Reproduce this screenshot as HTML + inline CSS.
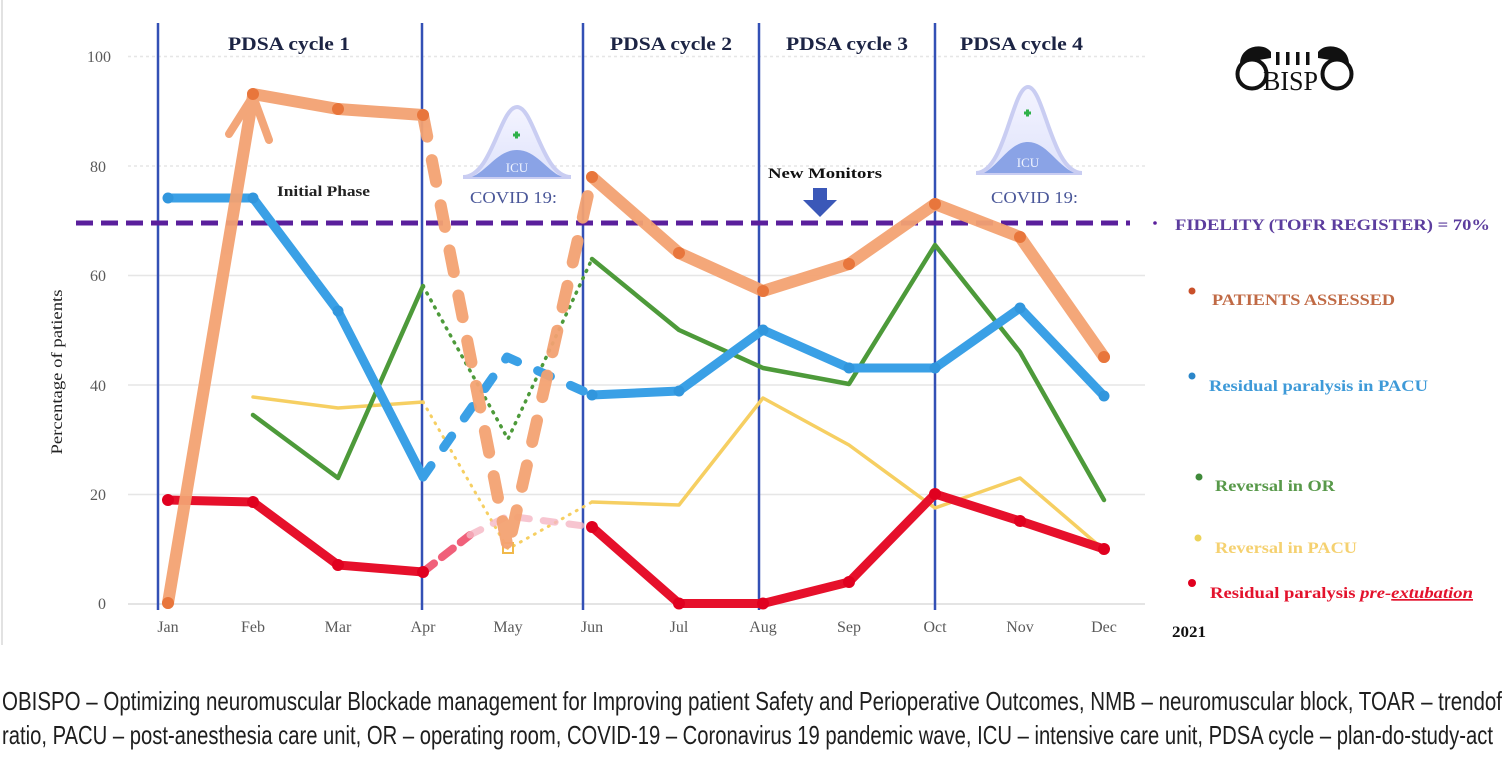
<!DOCTYPE html>
<html>
<head>
<meta charset="utf-8">
<style>
  html,body{margin:0;padding:0;background:#fff;}
  svg{display:block;}
  .ser{font-family:"Liberation Serif",serif;}
</style>
</head>
<body>
<svg width="1507" height="765" viewBox="0 0 1507 765" xmlns="http://www.w3.org/2000/svg">
  <rect width="1507" height="765" fill="#fff"/>
  <line x1="2" y1="0" x2="2" y2="645" stroke="#e2e2e2" stroke-width="2"/>

  <!-- gridlines -->
  <g stroke="#e6e6e6" stroke-width="1.5">
    <line x1="128" y1="56.5" x2="1145" y2="56.5" stroke-dasharray="3 3"/>
    <line x1="128" y1="166" x2="1145" y2="166" stroke-dasharray="3 3"/>
    <line x1="128" y1="275.5" x2="1145" y2="275.5"/>
    <line x1="128" y1="385" x2="1145" y2="385"/>
    <line x1="128" y1="494.5" x2="1145" y2="494.5"/>
    <line x1="128" y1="604" x2="1145" y2="604" stroke="#dcdcdc"/>
  </g>

  <!-- y tick labels -->
  <g class="ser" font-size="16" fill="#5a5a5a" text-anchor="end">
    <text x="111" y="62">100</text>
    <text x="106" y="172">80</text>
    <text x="106" y="281">60</text>
    <text x="106" y="391">40</text>
    <text x="106" y="500">20</text>
    <text x="106" y="609">0</text>
  </g>
  <text class="ser" font-size="15.5" fill="#222" transform="translate(62,372) rotate(-90)" text-anchor="middle" textLength="165" lengthAdjust="spacingAndGlyphs">Percentage of patients</text>

  <!-- x tick labels -->
  <g class="ser" font-size="16" fill="#5a5a5a" text-anchor="middle">
    <text x="168" y="632">Jan</text>
    <text x="253" y="632">Feb</text>
    <text x="338" y="632">Mar</text>
    <text x="423" y="632">Apr</text>
    <text x="508" y="632">May</text>
    <text x="592" y="632">Jun</text>
    <text x="679" y="632">Jul</text>
    <text x="763" y="632">Aug</text>
    <text x="849" y="632">Sep</text>
    <text x="935" y="632">Oct</text>
    <text x="1020" y="632">Nov</text>
    <text x="1104" y="632">Dec</text>
  </g>

  <!-- vertical cycle lines -->
  <g stroke="#3350b5" stroke-width="2.5">
    <line x1="158" y1="23" x2="158" y2="610"/>
    <line x1="422" y1="23" x2="422" y2="610"/>
    <line x1="583" y1="23" x2="583" y2="610"/>
    <line x1="759" y1="23" x2="759" y2="610"/>
    <line x1="935" y1="23" x2="935" y2="610"/>
  </g>

  <!-- PDSA labels -->
  <g class="ser" font-size="19" font-weight="bold" fill="#1c2444">
    <text x="228" y="50" textLength="122" lengthAdjust="spacingAndGlyphs">PDSA cycle 1</text>
    <text x="610" y="50" textLength="122" lengthAdjust="spacingAndGlyphs">PDSA cycle 2</text>
    <text x="786" y="50" textLength="122" lengthAdjust="spacingAndGlyphs">PDSA cycle 3</text>
    <text x="960" y="50" textLength="123" lengthAdjust="spacingAndGlyphs">PDSA cycle 4</text>
  </g>

  <text class="ser" font-size="15" font-weight="bold" fill="#222" x="277" y="196" textLength="93" lengthAdjust="spacingAndGlyphs">Initial Phase</text>
  <text class="ser" font-size="15" font-weight="bold" fill="#111" x="768" y="178" textLength="114" lengthAdjust="spacingAndGlyphs">New Monitors</text>
  <path d="M813,188 L827,188 L827,200 L837,200 L820,217 L803,200 L813,200 Z" fill="#3b58b8"/>

  <!-- COVID icons -->
  <defs>
    <linearGradient id="bell" x1="0" y1="0" x2="0" y2="1">
      <stop offset="0" stop-color="#f4f4ff"/>
      <stop offset="1" stop-color="#dfe3fb"/>
    </linearGradient>
  </defs>
  <g>
    <path d="M463,177 C492,177 500,107 517,107 C534,107 542,177 571,177 Z" fill="url(#bell)" stroke="#c9cdf2" stroke-width="4"/>
    <path d="M472,177 C488,170 498,150 517,150 C536,150 546,170 562,177 Z" fill="#8aa3e6"/>
    <text class="ser" x="517" y="172" font-size="13" fill="#f0f4ff" text-anchor="middle">ICU</text>
    <path d="M513,135 h7 M516.5,131.5 v7" stroke="#2fb14a" stroke-width="3"/>
    <text class="ser" x="470" y="203" font-size="17" fill="#4a5799" textLength="87" lengthAdjust="spacingAndGlyphs">COVID 19:</text>
  </g>
  <g>
    <path d="M976,173 C1005,173 1012,87 1028,87 C1044,87 1052,173 1082,173 Z" fill="url(#bell)" stroke="#c9cdf2" stroke-width="4"/>
    <path d="M984,173 C1000,164 1010,142 1028,142 C1046,142 1056,164 1074,173 Z" fill="#8aa3e6"/>
    <text class="ser" x="1028" y="167" font-size="13" fill="#f0f4ff" text-anchor="middle">ICU</text>
    <path d="M1024,113 h7 M1027.5,109.5 v7" stroke="#2fb14a" stroke-width="3"/>
    <text class="ser" x="991" y="203" font-size="17" fill="#4a5799" textLength="87" lengthAdjust="spacingAndGlyphs">COVID 19:</text>
  </g>

  <!-- Fidelity dashed line -->
  <line x1="76" y1="223" x2="1130" y2="223" stroke="#5a1f9c" stroke-width="5" stroke-dasharray="17 8"/>

  <!-- ===== Series ===== -->
  <!-- Yellow: Reversal in PACU -->
  <g fill="none" stroke="#f6cf62" stroke-linejoin="round" stroke-linecap="round">
    <polyline points="253,397 338,408 423,402" stroke-width="3.5"/>
    <polyline points="423,402 508,549 592,502" stroke-width="3" stroke-dasharray="1 7"/>
    <polyline points="592,502 679,505 763,398 849,445 935,508 1020,478 1104,550" stroke-width="3.5"/>
  </g>
  <rect x="503" y="543" width="10" height="10" fill="none" stroke="#f1b94a" stroke-width="2"/>

  <!-- Green: Reversal in OR -->
  <g fill="none" stroke="#4d9a3a" stroke-linejoin="round" stroke-linecap="round">
    <polyline points="253,415 338,478 423,286" stroke-width="4.5"/>
    <polyline points="423,286 508,439 592,259" stroke-width="3.5" stroke-dasharray="1 7"/>
    <polyline points="592,259 679,330 763,368 849,384 935,245 1020,352 1104,500" stroke-width="4.5"/>
  </g>

  <!-- Blue: Residual paralysis in PACU -->
  <g fill="none" stroke="#3aa0e6" stroke-linejoin="round" stroke-linecap="round">
    <polyline points="168,198 253,198 338,311 423,477" stroke-width="9"/>
    <polyline points="423,477 507,357 592,395" stroke-width="9" stroke-dasharray="14 22"/>
    <polyline points="592,395 679,391 763,330 849,368 935,368 1020,308 1104,396" stroke-width="9"/>
  </g>
  <g fill="#3196dd">
    <circle cx="168" cy="198" r="5.5"/><circle cx="253" cy="198" r="5.5"/><circle cx="338" cy="311" r="5.5"/>
    <circle cx="592" cy="395" r="5.5"/><circle cx="679" cy="391" r="5.5"/><circle cx="763" cy="330" r="5.5"/>
    <circle cx="849" cy="368" r="5.5"/><circle cx="935" cy="368" r="5.5"/><circle cx="1020" cy="308" r="5.5"/>
    <circle cx="1104" cy="396" r="5.5"/>
  </g>

  <!-- Red: Residual paralysis pre-extubation -->
  <g fill="none" stroke-linejoin="round" stroke-linecap="round">
    <polyline points="168,500 253,502 338,565 423,572" stroke="#e6102b" stroke-width="9"/>
    <polyline points="423,572 470,535" stroke="#f0607a" stroke-width="8" stroke-dasharray="14 10"/>
    <polyline points="470,535 508,516 592,527" stroke="#f5b6c4" stroke-width="7" stroke-dasharray="12 14" opacity="0.8"/>
    <polyline points="592,527 679,603.5 763,603.5 849,582 935,494 1020,521 1104,549" stroke="#e6102b" stroke-width="9"/>
  </g>
  <g fill="#e0001f">
    <circle cx="168" cy="500" r="6"/><circle cx="253" cy="502" r="6"/><circle cx="338" cy="565" r="6"/>
    <circle cx="423" cy="572" r="6"/><circle cx="592" cy="527" r="6"/><circle cx="679" cy="603.5" r="6"/>
    <circle cx="763" cy="603.5" r="6"/><circle cx="849" cy="582" r="6"/><circle cx="935" cy="494" r="6"/>
    <circle cx="1020" cy="521" r="6"/><circle cx="1104" cy="549" r="6"/>
  </g>

  <!-- Orange: Patients assessed -->
  <g fill="none" stroke="#f3a272" stroke-linejoin="round" stroke-linecap="round" opacity="0.95">
    <line x1="168" y1="603" x2="253" y2="96" stroke-width="12"/>
    <polyline points="229,134 253,96 269,140" stroke-width="8"/>
    <polyline points="253,94 338,109 423,115" stroke-width="12"/>
    <polyline points="423,115 508,549 592,177" stroke-width="12" stroke-dasharray="22 24"/>
    <polyline points="592,177 679,253 763,291 849,264 935,204 1020,237 1104,357" stroke-width="12"/>
  </g>
  <g fill="#e8763c">
    <circle cx="168" cy="603" r="6"/><circle cx="253" cy="94" r="6"/><circle cx="338" cy="109" r="6"/>
    <circle cx="423" cy="115" r="6"/><circle cx="592" cy="177" r="6"/><circle cx="679" cy="253" r="6"/>
    <circle cx="763" cy="291" r="6"/><circle cx="849" cy="264" r="6"/><circle cx="935" cy="204" r="6"/>
    <circle cx="1020" cy="237" r="6"/><circle cx="1104" cy="357" r="6"/>
  </g>

  <!-- Logo OBISPO -->
  <g>
    <circle cx="1252" cy="74" r="14.5" fill="none" stroke="#111" stroke-width="4"/>
    <circle cx="1337" cy="74" r="14.5" fill="none" stroke="#111" stroke-width="4"/>
    <path d="M1240,63 C1241,45 1264,42 1271,52 L1271,58 L1246,62 Z" fill="#111"/>
    <path d="M1349,63 C1348,45 1325,42 1318,52 L1318,58 L1343,62 Z" fill="#111"/>
    <rect x="1276" y="52" width="3.5" height="13" fill="#111"/>
    <rect x="1286" y="52" width="3.5" height="13" fill="#111"/>
    <rect x="1296" y="52" width="3.5" height="13" fill="#111"/>
    <rect x="1306" y="52" width="3.5" height="13" fill="#111"/>
    <text class="ser" x="1263" y="90" font-size="27" fill="#111" textLength="55" lengthAdjust="spacingAndGlyphs">BISP</text>
  </g>

  <!-- Legend -->
  <g class="ser" font-weight="bold">
    <circle cx="1155" cy="223" r="1.8" fill="#5a1f9c"/>
    <text x="1175" y="230" font-size="16" fill="#5c3d9e" textLength="315" lengthAdjust="spacingAndGlyphs">FIDELITY (TOFR REGISTER) = 70%</text>

    <circle cx="1192" cy="291" r="3.5" fill="#c9502a"/>
    <text x="1212" y="305" font-size="16" fill="#c06a45" textLength="183" lengthAdjust="spacingAndGlyphs">PATIENTS ASSESSED</text>

    <circle cx="1192" cy="376" r="3.5" fill="#2a86c9"/>
    <text x="1209" y="391" font-size="16" fill="#3e9ad8" textLength="219" lengthAdjust="spacingAndGlyphs">Residual paralysis in PACU</text>

    <circle cx="1199" cy="477" r="3.5" fill="#3f8a3a"/>
    <text x="1215" y="491" font-size="16" fill="#58994a" textLength="120" lengthAdjust="spacingAndGlyphs">Reversal in OR</text>

    <circle cx="1198" cy="538" r="3.5" fill="#ecd35a"/>
    <text x="1215" y="553" font-size="16" fill="#f5d170" textLength="142" lengthAdjust="spacingAndGlyphs">Reversal in PACU</text>

    <circle cx="1192" cy="583" r="4" fill="#e0001f"/>
    <text x="1210" y="598" font-size="16" fill="#e3122c" textLength="263" lengthAdjust="spacingAndGlyphs">Residual paralysis <tspan font-style="italic">pre-<tspan text-decoration="underline">extubation</tspan></tspan></text>
    <line x1="1393" y1="600" x2="1473" y2="600" stroke="#e3122c" stroke-width="1.2"/>

    <text x="1172" y="637" font-size="16" fill="#111" textLength="34" lengthAdjust="spacingAndGlyphs">2021</text>
  </g>

  <!-- Caption -->
  <g font-family="'Liberation Sans Narrow','Liberation Sans',sans-serif" font-size="26" fill="#1e1e1e">
    <text x="2" y="710" textLength="1500" lengthAdjust="spacingAndGlyphs">OBISPO – Optimizing neuromuscular Blockade management for Improving patient Safety and Perioperative Outcomes, NMB – neuromuscular block, TOAR – trendof</text>
    <text x="2" y="744" textLength="1491" lengthAdjust="spacingAndGlyphs">ratio, PACU – post-anesthesia care unit, OR – operating room, COVID-19 – Coronavirus 19 pandemic wave, ICU – intensive care unit, PDSA cycle – plan-do-study-act</text>
  </g>
</svg>
</body>
</html>
